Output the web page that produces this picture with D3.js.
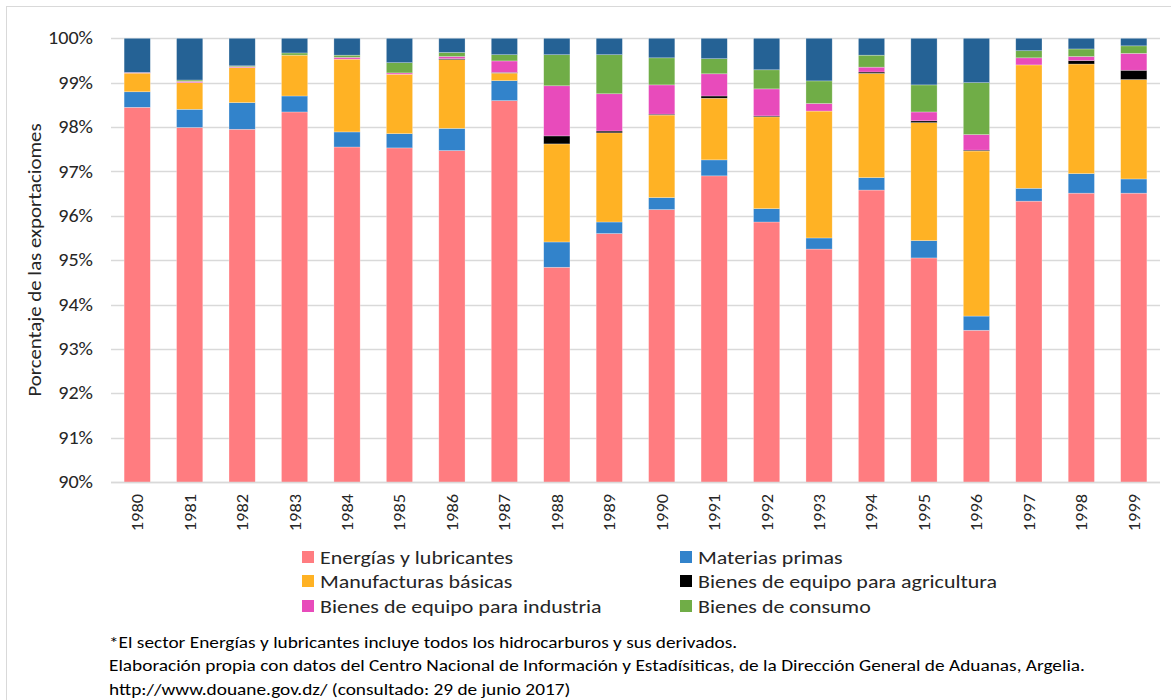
<!DOCTYPE html>
<html>
<head>
<meta charset="utf-8">
<script src="https://cdn.jsdelivr.net/npm/d3@7"></script>
<style>
  body { margin: 0; background: #fff; }
  svg text { font-family: Carlito, Lato, "Open Sans", sans-serif; fill: #000; }
</style>
</head>
<body>
<div id="chart-container"></div>
<script>
var years = ["1980","1981","1982","1983","1984","1985","1986","1987","1988","1989",
             "1990","1991","1992","1993","1994","1995","1996","1997","1998","1999"];

// porcentajes, de abajo hacia arriba
var energia      = [98.45, 97.99, 97.95, 98.34, 97.55, 97.53, 97.46, 98.61, 94.84, 95.60, 96.14, 96.90, 95.86, 95.25, 96.58, 95.05, 93.42, 96.33, 96.51, 96.51];
var materias     = [0.35, 0.41, 0.60, 0.36, 0.34, 0.32, 0.50, 0.45, 0.57, 0.26, 0.27, 0.36, 0.30, 0.25, 0.28, 0.39, 0.32, 0.29, 0.44, 0.32];
var manufacturas = [0.42, 0.60, 0.79, 0.92, 1.64, 1.34, 1.55, 0.17, 2.21, 2.01, 1.86, 1.39, 2.07, 2.86, 2.35, 2.66, 3.72, 2.78, 2.47, 2.24];
var agricultura  = [0, 0, 0, 0, 0, 0, 0.02, 0.015, 0.18, 0.04, 0.02, 0.05, 0.02, 0, 0.03, 0.04, 0.02, 0, 0.08, 0.21];
var industria    = [0.015, 0.03, 0.02, 0, 0.04, 0.03, 0.05, 0.26, 1.13, 0.84, 0.66, 0.50, 0.61, 0.17, 0.11, 0.20, 0.35, 0.16, 0.09, 0.38];
var consumo      = [0, 0.03, 0.02, 0.05, 0.05, 0.23, 0.09, 0.14, 0.70, 0.88, 0.61, 0.34, 0.43, 0.51, 0.27, 0.61, 1.17, 0.16, 0.17, 0.17];
var alimentos    = [0.77, 0.94, 0.62, 0.33, 0.38, 0.55, 0.32, 0.37, 0.37, 0.37, 0.44, 0.46, 0.71, 0.96, 0.38, 1.05, 1.00, 0.28, 0.24, 0.17];

var yTicks = [90, 91, 92, 93, 94, 95, 96, 97, 98, 99, 100];

var seriesNames = ["Energías y lubricantes", "Materias primas", "Manufacturas básicas",
                   "Bienes de equipo para agricultura", "Bienes de equipo para industria",
                   "Bienes de consumo", "Alimentos"];
var seriesColors = ["#FF7C80", "#3283CB", "#FFB224", "#000000", "#E84BBB", "#70AD47", "#256295"];
var seriesValues = [energia, materias, manufacturas, agricultura, industria, consumo, alimentos];

var footnotes = [
  "*El sector Energías y lubricantes incluye todos los hidrocarburos y  sus derivados.",
  "Elaboración propia con datos del Centro Nacional de Información y Estadísiticas, de la Dirección General de Aduanas, Argelia.",
  "http://www.douane.gov.dz/ (consultado: 29 de junio 2017)"
];

var svg = d3.select("#chart-container").append("svg").attr("width", 1171).attr("height", 700);

// el texto del original sale algo mas ancho: se estira en horizontal
function stretch(sel, k) {
  sel.each(function() {
    var w = this.getComputedTextLength();
    d3.select(this).attr("textLength", w * k).attr("lengthAdjust", "spacingAndGlyphs");
  });
}

// borde del area del grafico
svg.append("rect").attr("x", 6.5).attr("y", 6.5).attr("width", 1200).attr("height", 720)
  .attr("fill", "none").attr("stroke", "#d9d9d9");

var table = years.map(function(y, i) {
  var row = { year: y };
  seriesNames.forEach(function(n, k) { row[n] = seriesValues[k][i]; });
  return row;
});

var stack = d3.stack().keys(seriesNames).offset(d3.stackOffsetExpand);
var layers = stack(table);

var x = d3.scaleBand().domain(years).range([111, 1160]).paddingInner(0.5).paddingOuter(0.25);
var y = d3.scaleLinear().domain([90, 100]).range([482, 38.3]);

// lineas de cuadricula
svg.append("g").selectAll("line").data(yTicks).enter().append("line")
  .attr("x1", 111).attr("x2", 1160)
  .attr("y1", function(d) { return Math.round(y(d)) + 0.5; })
  .attr("y2", function(d) { return Math.round(y(d)) + 0.5; })
  .attr("stroke", "#d9d9d9").attr("stroke-width", 1.3);

svg.append("clipPath").attr("id", "plot-clip").append("rect")
  .attr("x", 100).attr("y", 30).attr("width", 1070).attr("height", y(90) - 30);

var bars = svg.append("g").attr("clip-path", "url(#plot-clip)");
bars.selectAll("g").data(layers).enter().append("g")
  .attr("fill", function(d, i) { return seriesColors[i]; })
  .selectAll("rect").data(function(d) { return d; }).enter().append("rect")
    .attr("x", function(d) { return x(d.data.year); })
    .attr("width", x.bandwidth())
    .attr("y", function(d) { return y(d[1] * 100); })
    .attr("height", function(d) { return Math.max(0, y(d[0] * 100) - y(d[1] * 100)); })
    .attr("stroke", "#fff").attr("stroke-opacity", 0.45).attr("stroke-width", 0.6);

// eje horizontal
svg.append("line").attr("x1", 111).attr("x2", 1160)
  .attr("y1", Math.round(y(90)) + 0.5).attr("y2", Math.round(y(90)) + 0.5)
  .attr("stroke", "#d9d9d9").attr("stroke-width", 1.3);

// etiquetas eje y
var yLabels = svg.append("g").selectAll("text").data(yTicks).enter().append("text")
  .attr("x", 93).attr("y", function(d) { return y(d); })
  .attr("dy", "0.35em").attr("text-anchor", "end")
  .style("font-size", "17.5px").style("fill", "#262626")
  .text(function(d) { return d + "%"; });
stretch(yLabels, 1.15);

// etiquetas eje x
var xLabels = svg.append("g").selectAll("text").data(years).enter().append("text")
  .attr("transform", function(d) { return "translate(" + (x(d) + x.bandwidth() / 2) + ",494) rotate(-90)"; })
  .attr("dy", "0.35em").attr("text-anchor", "end")
  .style("font-size", "17px").style("fill", "#262626")
  .text(function(d) { return d; });
stretch(xLabels, 1.08);

var yTitle = svg.append("text")
  .attr("transform", "translate(35,260) rotate(-90)")
  .attr("dy", "0.35em").attr("text-anchor", "middle")
  .style("font-size", "17.5px").style("fill", "#262626")
  .text("Porcentaje de las exportaciomes");
stretch(yTitle, 1.19);

// leyenda (sin la serie superior)
var legendPos = [[302, 557], [680, 557], [302, 581], [680, 581], [302, 606], [680, 606]];
var legend = svg.append("g").selectAll("g").data(seriesNames.slice(0, 6)).enter().append("g")
  .attr("transform", function(d, i) { return "translate(" + legendPos[i][0] + "," + legendPos[i][1] + ")"; });
legend.append("rect").attr("x", 0).attr("y", -6).attr("width", 12).attr("height", 12)
  .attr("fill", function(d, i) { return seriesColors[i]; });
var legendText = legend.append("text").attr("x", 18).attr("dy", "0.35em")
  .style("font-size", "19px").style("fill", "#262626")
  .text(function(d) { return d; });
stretch(legendText, 1.155);

var notes = svg.append("g").selectAll("text").data(footnotes).enter().append("text")
  .attr("x", 109).attr("y", function(d, i) { return 642 + i * 23.5; })
  .attr("dy", "0.35em")
  .style("font-size", "16.5px").style("fill", "#000")
  .text(function(d) { return d; });
stretch(notes, 1.17);
</script>
</body>
</html>
